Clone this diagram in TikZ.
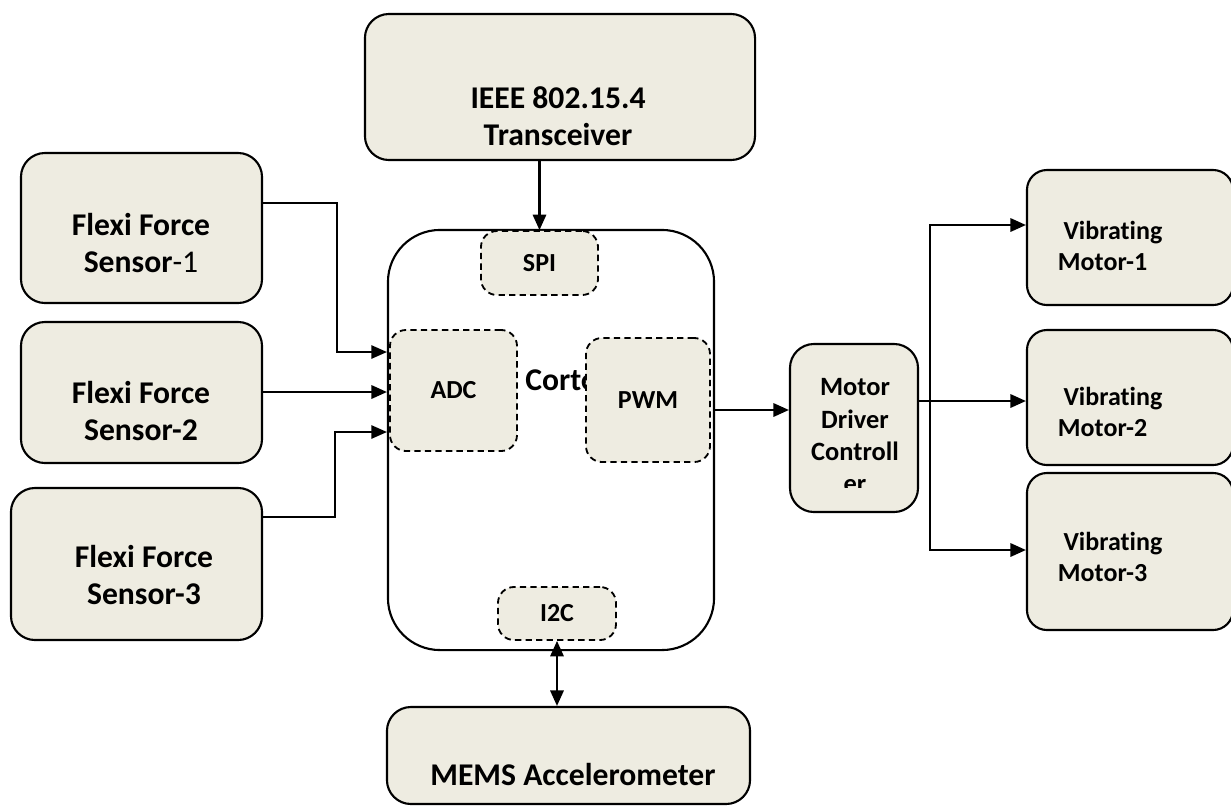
\documentclass[tikz,border=0pt]{standalone}
\usepackage{fontspec}
\setmainfont{Carlito}[Ligatures=NoCommon]
\usetikzlibrary{positioning, arrows.meta, calc}
\definecolor{boxfill}{HTML}{EEECE1}
\tikzset{
  block/.style={rectangle, rounded corners=0.6cm, minimum width=3cm, minimum height=1cm, draw=black, line width=1.5pt, fill=boxfill},
  core/.style={rectangle, rounded corners=1.3cm, draw=black, line width=1.5pt, fill=white},
  port/.style={rectangle, rounded corners=0.4cm, draw=black, line width=1.3pt, dash pattern=on 4.5pt off 3pt, fill=boxfill, font=\fontsize{18.5}{22}\selectfont\bfseries},
  bigtext/.style={align=center, font=\fontsize{22.5}{26}\selectfont\bfseries},
  smalltext/.style={align=left, anchor=west, font=\fontsize{18.5}{21.5}\selectfont\bfseries},
  arrow/.style={line width=1.5pt, -{Triangle[length=11pt,width=9.5pt]}},
  thinarrow/.style={line width=1pt, -{Triangle[length=11pt,width=9.5pt]}},
  dblarrow/.style={line width=1.5pt, {Triangle[length=11pt,width=9.5pt]}-{Triangle[length=11pt,width=9.5pt]}}
}

\begin{document}
\begin{tikzpicture}[x=0.025cm, y=-0.025cm]
    \useasboundingbox (0,0) rectangle (1231,805);

    % Transceiver arriba
    \node[block, minimum width=9.75cm, minimum height=3.65cm] (trx) at (560,87) {};
    \node[bigtext] (trx-t) at (558,116) {IEEE 802.15.4\\Transceiver};

    % Sensores de fuerza
    \node[block, minimum width=6.025cm, minimum height=3.75cm] (fs1) at (141.5,228) {};
    \node[bigtext] (fs1-t) at (141,243) {Flexi Force\\Sensor{\mdseries-1}};
    \node[block, minimum width=6.025cm, minimum height=3.525cm] (fs2) at (141.5,392.5) {};
    \node[bigtext] (fs2-t) at (141,411) {Flexi Force\\Sensor-2};
    \node[block, minimum width=6.275cm, minimum height=3.8cm] (fs3) at (136.5,564) {};
    \node[bigtext] (fs3-t) at (144,575) {Flexi Force\\Sensor-3};

    % Microcontrolador
    \node[core, minimum width=8.15cm, minimum height=10.5cm] (cortex) at (551,440) {};
    \node[anchor=base west, inner sep=0pt, font=\fontsize{22.5}{26}\selectfont\bfseries] (cortex-t) at (525,390) {Cortex};
    \node[port, minimum width=2.925cm, minimum height=1.6cm] (spi) at (539.5,263) {SPI};
    \node[port, minimum width=3.175cm, minimum height=3.025cm] (adc) at (453.5,390.5) {ADC};
    \node[port, minimum width=3.1cm, minimum height=3.1cm] (pwm) at (648,400) {PWM};
    \node[port, minimum width=2.95cm, minimum height=1.325cm] (i2c) at (557,613.5) {I2C};

    % Acelerometro
    \node[block, minimum width=9.075cm, minimum height=2.425cm] (mems) at (568.5,755.5) {};
    \node[bigtext] (mems-t) at (573,775) {MEMS Accelerometer};

    % Driver de motores (texto recortado)
    \node[block, minimum width=3.2cm, minimum height=4.2cm] (mdc) at (854,428) {};
    \begin{scope}
        \clip (mdc.north west) rectangle (mdc.east |- 0,487);
        \node[align=center, font=\fontsize{18.8}{23}\selectfont\bfseries] (mdc-t) at (855,436) {Motor\\Driver\\Controll\\er};
    \end{scope}

    % Motores vibradores
    \foreach \i/\y/\h/\ty in {1/237.5/3.375/246, 2/397.5/3.375/412, 3/551.5/3.925/557} {
        \node[block, rounded corners=0.5cm, minimum width=5.15cm, minimum height=\h cm] (vm\i) at (1130,\y) {};
        \node[smalltext] (vm\i-t) at (1053,\ty) {\hspace*{4pt}Vibrating\\Motor-\i};
    }

    % Conexiones
    \draw[arrow] (trx.south -| spi) -- (spi.north);
    \draw[thinarrow] (fs1.east |- 0,203) -- (337,203) |- (cortex.west |- 0,352);
    \draw[arrow] (fs2.east |- 0,392) -- (cortex.west |- 0,392);
    \draw[thinarrow] (fs3.east |- 0,517) -- (335,517) |- (cortex.west |- 0,432);
    \draw[dblarrow] (i2c.south) -- (mems.north -| i2c);
    \draw[arrow] (cortex.east |- 0,410) -- (mdc.west |- 0,410);

    \coordinate (split) at (930,401);
    \draw[arrow] (mdc.east |- split) -- (vm2.west |- split);
    \draw[arrow] (split) |- (vm1.west |- 0,225);
    \draw[arrow] (split) |- (vm3.west |- 0,550);

\end{tikzpicture}
\end{document}
